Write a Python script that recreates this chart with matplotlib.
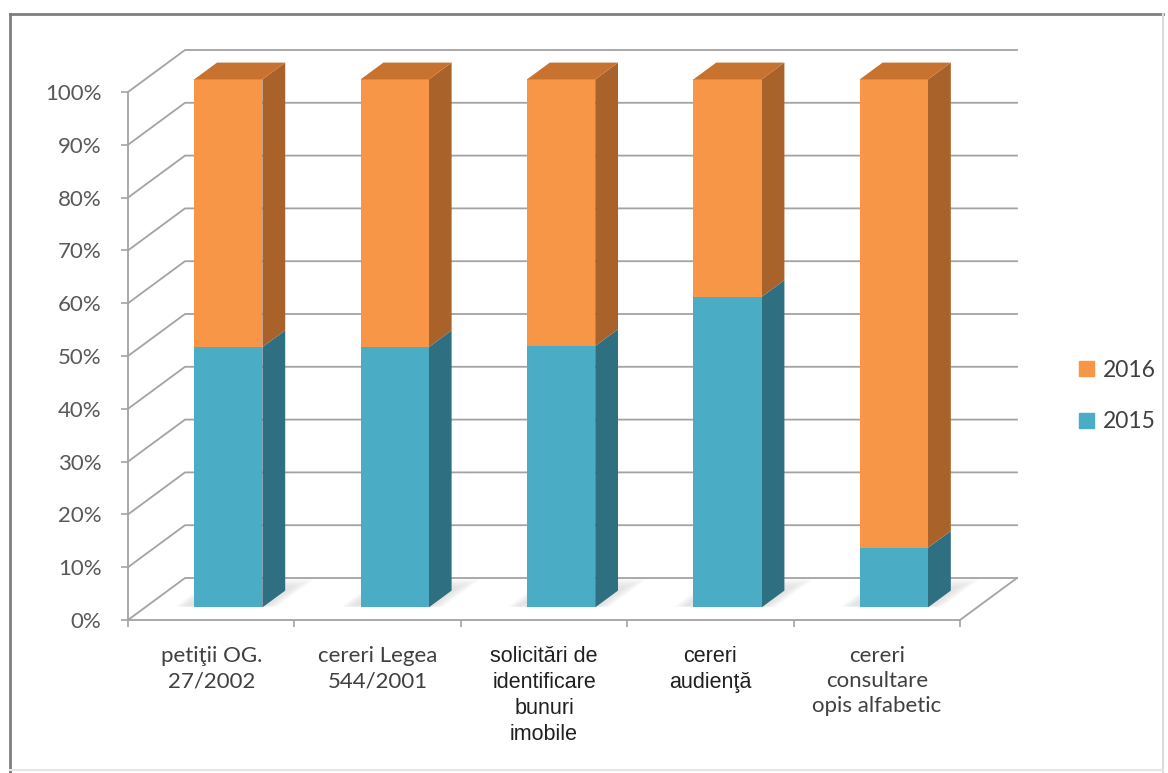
import matplotlib as mpl
import matplotlib.pyplot as plt
from matplotlib.patches import Polygon, Patch
from matplotlib.lines import Line2D
import numpy as np

categories = ['petiţii OG.\n27/2002', 'cereri Legea\n544/2001',
              'solicitări de\nidentificare\nbunuri\nimobile',
              'cereri\naudienţă', 'cereri\nconsultare\nopis alfabetic']
share_2015 = [49.3, 49.3, 49.5, 58.8, 11.3]
share_2016 = [50.7, 50.7, 50.5, 41.2, 88.7]
yticks = [0, 10, 20, 30, 40, 50, 60, 70, 80, 90, 100]

blue = '#4BACC6'
blue_side = '#2E6F82'
orange = '#F79646'
orange_side = '#A9622A'
orange_top = '#C8722F'
grid_c = '#A3A3A3'

W, H = 1168, 773
fig = plt.figure(figsize=(W / 100, H / 100), dpi=100)
ax = fig.add_axes([128 / W, 1 - 620 / H, (960 - 128) / W, 528 / H])
ax.set_xlim(0, 5)
ax.set_ylim(0, 100)
ax.patch.set_alpha(0)

# oblique projection of the depth axis (0 = front, 1 = back wall)
DX = 57 / (832 / 5)
DY = 42 / 5.28
D0, D1 = 0.3, 0.7
half = 0.205


def proj(x, y, d):
    return (x + d * DX, y + d * DY)


# walls and gridlines
for v in yticks:
    pts = [proj(0, v, 0), proj(0, v, 1), proj(5, v, 1)]
    ax.plot(*zip(*pts), color=grid_c, lw=1.3, clip_on=False, zorder=1)
ax.plot(*zip(proj(5, 0, 1), proj(5, 0, 0)), color=grid_c, lw=1.3, clip_on=False, zorder=1)

# soft floor shadows
for i in range(len(categories)):
    c = i + 0.5
    for k in range(6):
        e = 0.012 * k
        sh = [proj(c - half - 0.06 - e, 0, D0 + 0.02), proj(c + half + 0.02 + e, 0, D0 + 0.02),
              proj(c + half + 0.02 + e, 0, D1 + 0.1 + e * 3), proj(c - half - 0.06 - e, 0, D1 + 0.1 + e * 3)]
        ax.add_patch(Polygon(sh, closed=True, color='#7f7f7f', alpha=0.035, lw=0,
                             clip_on=False, zorder=2))

# 3D stacked bars
for i in range(len(categories)):
    c = i + 0.5
    x0, x1 = c - half, c + half
    segs = [(0, share_2015[i], blue, blue_side),
            (share_2015[i], share_2015[i] + share_2016[i], orange, orange_side)]
    for lo, hi, fc, sc in segs:
        front = [proj(x0, lo, D0), proj(x1, lo, D0), proj(x1, hi, D0), proj(x0, hi, D0)]
        side = [proj(x1, lo, D0), proj(x1, lo, D1), proj(x1, hi, D1), proj(x1, hi, D0)]
        ax.add_patch(Polygon(side, closed=True, color=sc, lw=0, clip_on=False, zorder=3))
        ax.add_patch(Polygon(front, closed=True, color=fc, lw=0, clip_on=False, zorder=4))
    top_v = share_2015[i] + share_2016[i]
    top = [proj(x0, top_v, D0), proj(x1, top_v, D0), proj(x1, top_v, D1), proj(x0, top_v, D1)]
    ax.add_patch(Polygon(top, closed=True, color=orange_top, lw=0, clip_on=False, zorder=4))

# axes styling
for s in ['top', 'right']:
    ax.spines[s].set_visible(False)
for s in ['left', 'bottom']:
    ax.spines[s].set_color(grid_c)
    ax.spines[s].set_linewidth(1.3)

ax.set_yticks(yticks, labels=[f'{v}%' for v in yticks])
ax.tick_params(axis='y', direction='out', length=5, width=1.2, color=grid_c, pad=14,
               labelsize=16, labelcolor='#595959')
for lab in ax.get_yticklabels():
    lab.set_family('Lato')

ax.set_xticks(np.arange(6))
ax.set_xticklabels([])
ax.tick_params(axis='x', which='major', direction='out', length=5, width=1.2, color=grid_c)
ax.set_xticks(np.arange(5) + 0.5, labels=categories, minor=True)
ax.tick_params(axis='x', which='minor', length=0, pad=19, labelsize=16, labelcolor='#404040')
for i, lab in enumerate(ax.get_xticklabels(minor=True)):
    lab.set_linespacing(1.3)
    if i in (2, 3):
        lab.set_family('Liberation Sans')
        lab.set_fontsize(15.5)
        lab.set_color('#202020')
    else:
        lab.set_family('Lato')

leg = fig.legend(handles=[Patch(color=orange, label='2016'), Patch(color=blue, label='2015')],
                 loc='center left', bbox_to_anchor=(1058 / W, 1 - 396 / H),
                 frameon=False, handlelength=0.65, handleheight=0.65, handletextpad=0.4,
                 labelspacing=1.35, prop={'family': 'Lato', 'size': 16.5})
for t in leg.get_texts():
    t.set_color('#404040')

# chart frame
fig.add_artist(Line2D([10 / W, 10 / W], [1 - 772 / H, 1 - 14 / H], color='#7f7f7f', lw=2))
fig.add_artist(Line2D([10 / W, 1163 / W], [1 - 14 / H, 1 - 14 / H], color='#7f7f7f', lw=2))
fig.add_artist(Line2D([1163 / W, 1163 / W], [1 - 772 / H, 1 - 14 / H], color='#dcdcdc', lw=1.5))
fig.add_artist(Line2D([10 / W, 1163 / W], [1 - 770 / H, 1 - 770 / H], color='#e6e6e6', lw=1.5))

fig.savefig('out.png', dpi=100, facecolor='white')
